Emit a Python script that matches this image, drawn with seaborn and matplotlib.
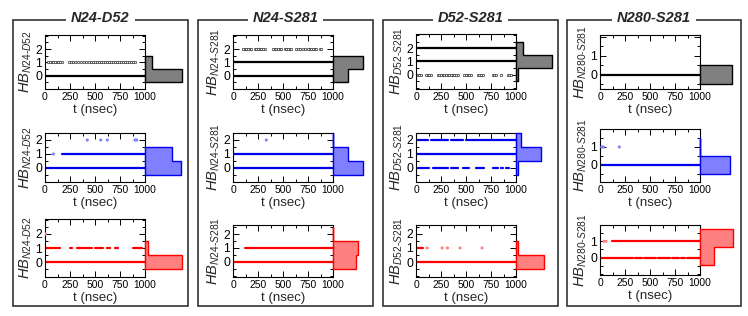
import pandas as pd
import matplotlib
matplotlib.use('Agg')
import matplotlib.pyplot as plt
import seaborn as sns
from matplotlib.patches import Rectangle
from matplotlib.ticker import MultipleLocator

# ---------------- data ----------------
pairs = ['N24-D52', 'N24-S281', 'D52-S281', 'N280-S281']
hb_labels = [r'$HB_{N24\text{-}D52}$', r'$HB_{N24\text{-}S281}$',
             r'$HB_{D52\text{-}S281}$', r'$HB_{N280\text{-}S281}$']
t_ticks = [0, 250, 500, 750, 1000]

# continuous H-bond stretches: (HB count, t start, t end) in nsec
black_segs = [
    [(0, 0, 1000)],
    [(1, 0, 1000), (0, 0, 1000)],
    [(2, 0, 1000), (1, 0, 1000)],
    [(0, 0, 1000)],
]
blue_segs = [
    [(0, 0, 1000), (1, 167, 1000)],
    [(1, 0, 1000), (0, 0, 1000)],
    [(1, 0, 1000), (2, 17, 117), (2, 150, 317), (2, 350, 467), (2, 500, 1000),
     (0, 17, 133), (0, 167, 317), (0, 350, 417), (0, 467, 533), (0, 600, 683),
     (0, 767, 817), (0, 850, 867), (0, 900, 933)],
    [(0, 0, 1000)],
]
red_segs = [
    [(0, 0, 1000), (1, 0, 150), (1, 250, 267), (1, 317, 367), (1, 383, 467),
     (1, 500, 583), (1, 617, 650), (1, 700, 733), (1, 883, 967)],
    [(0, 0, 1000), (1, 120, 1000)],
    [(0, 0, 1000), (1, 0, 68)],
    [(1, 120, 1000), (0, 0, 330), (0, 345, 420), (0, 440, 560), (0, 580, 700),
     (0, 720, 790), (0, 810, 850), (0, 865, 1000)],
]

# isolated frames: (HB count, [times])
black_dots = [
    [(1, [33, 50, 67, 83, 100, 117, 133, 150, 167, 240, 260, 280, 300, 330,
          360, 390, 410, 440, 460, 480, 500, 520, 540, 560, 580, 600, 620, 640,
          660, 680, 700, 720, 740, 760, 780, 800, 820, 840, 860, 880, 900])],
    [(2, [100, 117, 133, 150, 167, 183, 217, 233, 250, 267, 283, 300, 317,
          400, 417, 433, 450, 467, 483, 517, 533, 550, 567, 583, 633, 650, 667,
          700, 717, 750, 767, 783, 800, 817, 833, 867, 883])],
    [(0, [17, 33, 50, 100, 117, 133, 150, 217, 233, 250, 267, 283, 300, 317,
          333, 350, 367, 383, 400, 417, 483, 500, 517, 533, 550, 617, 633, 650,
          667, 767, 783, 800, 850, 917, 933, 950])],
    [],
]
blue_dots = [
    [(1, [83]), (2, [423, 557, 623, 900, 917])],
    [(2, [333])],
    [],
    [(1, [17, 33, 193])],
]
red_dots = [
    [(2, [3])],
    [],
    [(1, [112, 261, 315, 441, 661])],
    [(1, [40, 60])],
]

# population of HB = 0, 1, 2 (bar length, fraction of full scale)
black_hist = [[0.82, 0.15, 0.0], [0.33, 0.67, 0.0], [0.04, 0.79, 0.15], [0.70, 0.0, 0.0]]
blue_hist = [[0.79, 0.59, 0.0], [0.67, 0.33, 0.01], [0.04, 0.56, 0.11], [0.67, 0.01, 0.0]]
red_hist = [[0.82, 0.07, 0.0], [0.52, 0.56, 0.01], [0.63, 0.04, 0.0], [0.30, 0.74, 0.0]]

# ---------------- layout (pixels) ----------------
W, H = 748, 316
ts_left = [45, 233, 416, 600]
ts_w, hist_w = 100, 45
row_tops = [[35, 35, 34, 35], [133, 133, 133, 129], [219, 225, 225, 225]]
row_bots = [[89, 89, 89, 89], [182, 182, 182, 182], [277, 277, 277, 275]]
ylims = [[(-1, 3.05), (-1, 3.05), (-1.1, 3.1), (-0.75, 2.1)],
         [(-1, 2.5), (-1, 2.5), (-1, 2.5), (-0.95, 1.97)],
         [(-1.03, 3.05), (-1.1, 2.65), (-1.05, 2.62), (-1.07, 1.75)]]
boxes = [(13, 188), (198, 373), (383, 558), (567, 741)]
box_top, box_bot = 20, 306

sns.set_style('ticks')
plt.rcParams['font.family'] = ['Liberation Sans', 'DejaVu Sans']
plt.rcParams['mathtext.fontset'] = 'custom'
plt.rcParams['mathtext.it'] = 'Liberation Sans:italic'
plt.rcParams['mathtext.rm'] = 'Liberation Sans'

fig = plt.figure(figsize=(W / 100, H / 100), dpi=100)


def px_rect(x0, y0, w, y1):
    return [x0 / W, 1 - y1 / H, w / W, (y1 - y0) / H]


for p, (x0, x1) in enumerate(boxes):
    fig.add_artist(Rectangle((x0 / W, 1 - box_bot / H), (x1 - x0) / W,
                             (box_bot - box_top) / H, transform=fig.transFigure,
                             fill=False, ec='#222222', lw=1.1))
    fig.text((x0 + x1) / 2 / W, 1 - 17.5 / H, pairs[p], ha='center', va='center',
             fontsize=10.5, weight='bold', style='italic',
             bbox=dict(fc='white', ec='none', pad=3.5))

rows = [
    (black_segs, black_dots, black_hist, 'black',
     dict(color='white', edgecolor='#222222', linewidth=0.45, s=3), '#808080'),
    (blue_segs, blue_dots, blue_hist, '#0000ee',
     dict(color='#7f7fff', edgecolor='none', s=5), '#7f7fff'),
    (red_segs, red_dots, red_hist, '#ff0000',
     dict(color='#ff8080', edgecolor='none', s=5), '#ff8080'),
]

for r, (segs, dots, hists, line_c, dot_kw, fill_c) in enumerate(rows):
    for p in range(4):
        top, bot = row_tops[r][p], row_bots[r][p]
        ax = fig.add_axes(px_rect(ts_left[p], top, ts_w, bot))
        axh = fig.add_axes(px_rect(ts_left[p] + ts_w, top, hist_w, bot))

        recs = []
        for k, (lev, t0, t1) in enumerate(segs[p]):
            recs += [dict(seg=k, t=t0, hb=lev), dict(seg=k, t=t1, hb=lev)]
        seg_df = pd.DataFrame(recs)
        sns.lineplot(data=seg_df, x='t', y='hb', units='seg', estimator=None,
                     color=line_c, lw=1.6, ax=ax, legend=False)

        pts = [dict(t=t, hb=lev) for lev, ts in dots[p] for t in ts]
        if pts:
            dot_df = pd.DataFrame(pts)
            sns.scatterplot(data=dot_df, x='t', y='hb', marker='o',
                            ax=ax, legend=False, zorder=3, **dot_kw)

        ax.set_xlim(0, 1000)
        ax.set_ylim(*ylims[r][p])
        ax.set_xticks(t_ticks)
        ax.xaxis.set_minor_locator(MultipleLocator(125))
        if p == 3:
            ax.set_yticks([0, 1, 2], ['0', '1', ''])
        else:
            ax.set_yticks([0, 1, 2])
        ax.yaxis.set_minor_locator(MultipleLocator(0.5))
        ax.tick_params(which='both', direction='in', top=True, right=True,
                       width=0.7, colors='black')
        ax.tick_params(which='major', length=4)
        ax.tick_params(which='minor', length=2)
        ax.tick_params(axis='x', labelsize=7.4, pad=2.5)
        ax.tick_params(axis='y', labelsize=8.8, pad=2)
        for s in ax.spines.values():
            s.set_linewidth(0.8)
            s.set_color('black')
        ax.set_xlabel('t (nsec)', fontsize=9.5, labelpad=1)
        ax.set_ylabel(hb_labels[p], fontsize=10.5, labelpad=1)

        # population histogram drawn as a horizontal step profile
        h = hists[p]
        nz = [i for i, v in enumerate(h) if v > 0]
        lv = list(range(nz[0], nz[-1] + 1))
        bins = [lv[0] - 0.5] + [v + 0.5 for v in lv]
        sns.histplot(y=lv, weights=[h[i] for i in lv], bins=bins, element='step',
                     fill=True, facecolor=fill_c, edgecolor=line_c, alpha=1,
                     linewidth=1.0, ax=axh)
        for c in axh.collections:
            c.set_clip_on(False)
        axh.set_xlim(0, 1)
        axh.set_ylim(*ylims[r][p])
        axh.axis('off')

fig.savefig('out.png', dpi=100)
